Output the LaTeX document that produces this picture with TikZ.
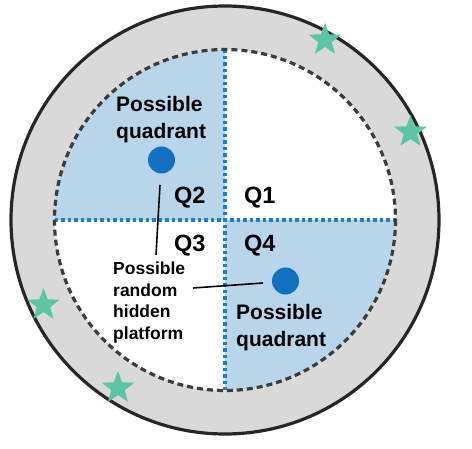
\documentclass[tikz,border=0pt]{standalone}
\usepackage{fontspec}
\setmainfont{Liberation Sans}
\usetikzlibrary{shapes.geometric}
\definecolor{ringgray}{HTML}{D9D9D9}
\definecolor{quadblue}{HTML}{B8D5EA}
\definecolor{dotblue}{HTML}{1170C0}
\definecolor{lineblue}{HTML}{1C7CD0}
\definecolor{stargreen}{HTML}{5EC4A6}
\definecolor{darkline}{HTML}{262626}
\tikzset{
  starmark/.style={star, star points=5, star point ratio=2.4, minimum size=34pt, inner sep=0pt, fill=stargreen, draw=none},
  platdot/.style={circle, minimum size=27pt, inner sep=0pt, fill=dotblue, draw=none},
  qlabel/.style={anchor=base west, inner sep=0pt, font=\bfseries\fontsize{23.5}{27}\selectfont},
  bigtext/.style={anchor=north west, inner sep=0pt, align=left, font=\bfseries\fontsize{21}{26.5}\selectfont},
  smalltext/.style={anchor=north west, inner sep=0pt, align=left, font=\bfseries\fontsize{17.5}{21.8}\selectfont},
  quadline/.style={lineblue, line width=3.4pt, dash pattern=on 3.5pt off 3pt},
  pointer/.style={black, line width=1.6pt}
}
\begin{document}
\begin{tikzpicture}[x=1pt,y=-1pt]
\useasboundingbox (0,0) rectangle (472,449);
% pool
\coordinate (c) at (225,220);
\fill[ringgray] (c) circle (214);
\draw[darkline, line width=3.2pt] (c) circle (214);
\fill[white] (c) circle (170.5);
\begin{scope}
  \clip (c) circle (170.5);
  \fill[quadblue] (c) rectangle (40,40);
  \fill[quadblue] (c) rectangle (410,400);
\end{scope}
% quadrant dividers
\coordinate (vt) at (225,49.5);
\coordinate (vb) at (225,390.5);
\coordinate (hl) at (54.5,220);
\coordinate (hr) at (395.5,220);
\draw[quadline] (vt) -- (vb);
\draw[quadline] (hl) -- (hr);
% inner dashed circle
\draw[darkline!90, line width=3.2pt, dash pattern=on 6pt off 4pt] (c) circle (170.5);
% platforms
\node[platdot] (p2) at (161.5,160) {};
\node[platdot] (p4) at (285.5,281) {};
% labels
\node[qlabel] (q2) at (174,204) {Q2};
\node[qlabel] (q1) at (244,204) {Q1};
\node[qlabel] (q3) at (174,252) {Q3};
\node[qlabel] (q4) at (244,252) {Q4};
\node[bigtext] (t2) at (116,96.5) {Possible\\quadrant};
\node[bigtext] (t4) at (236,304.5) {Possible\\quadrant};
\node[smalltext] (tp) at (113,261.5) {Possible\\random\\hidden\\platform};
% pointers
\coordinate (a1) at (160,185);
\coordinate (a2) at (156,255);
\coordinate (b1) at (193,288);
\coordinate (b2) at (263,283);
\draw[pointer] (a1) -- (a2);
\draw[pointer] (b1) -- (b2);
% stars
\node[starmark] (s1) at (325,40) {};
\node[starmark] (s2) at (410.5,132) {};
\node[starmark] (s3) at (43.5,305) {};
\node[starmark] (s4) at (118,388) {};
\end{tikzpicture}
\end{document}
